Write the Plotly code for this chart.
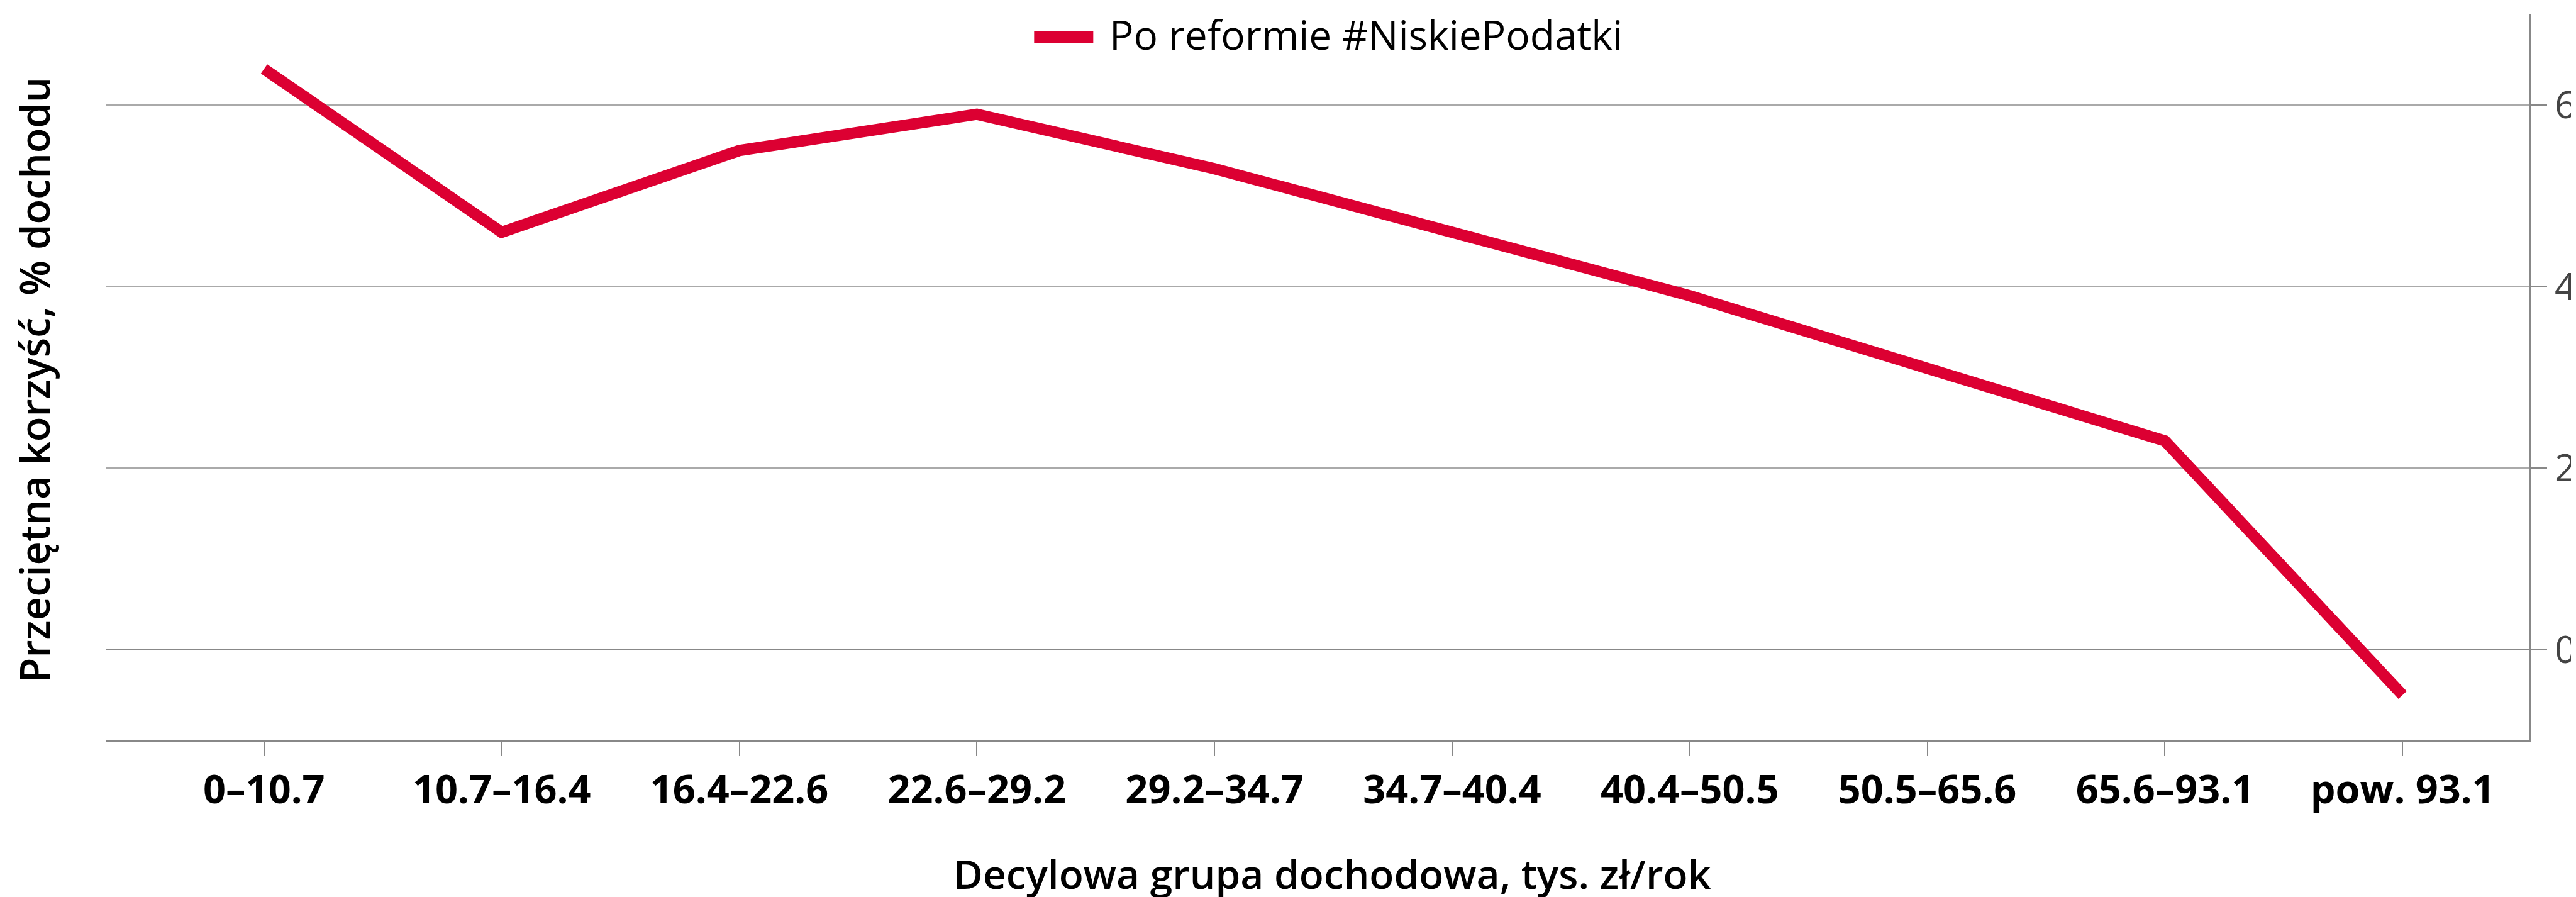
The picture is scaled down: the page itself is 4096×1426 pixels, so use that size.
import plotly.graph_objects as go

categories = ["0–10.7", "10.7–16.4", "16.4–22.6", "22.6–29.2", "29.2–34.7",
              "34.7–40.4", "40.4–50.5", "50.5–65.6", "65.6–93.1", "pow. 93.1"]
values = [6.4, 4.6, 5.5, 5.9, 5.3, 4.6, 3.9, 3.1, 2.3, -0.5]
series_name = "Po reformie #NiskiePodatki"
y_tickvals = [0, 2, 4, 6]
y_title = "Przeciętna korzyść, % dochodu"
x_title = "Decylowa grupa dochodowa, tys. zł/rok"

RED = "#DC0032"
FONT = "Open Sans"

x_idx = list(range(len(categories)))

fig = go.Figure()
fig.add_trace(go.Scatter(
    x=x_idx, y=values, mode="lines", name=series_name,
    line=dict(color=RED, width=18), showlegend=False,
))

fig.update_layout(
    width=4096, height=1426,
    margin=dict(l=161, r=82, t=15, b=257, autoexpand=False),
    paper_bgcolor="white", plot_bgcolor="white",
    font=dict(family=FONT, size=64, color="#000"),
    showlegend=False,
)

fig.update_xaxes(
    range=[-0.664, 9.534], automargin=False,
    tickmode="array", tickvals=x_idx, ticktext=categories,
    tickfont=dict(family=FONT, size=63, color="#000", weight="bold"),
    showgrid=False, zeroline=False,
    showline=True, linecolor="#888", linewidth=2.5,
    ticks="outside", ticklen=22, tickwidth=2, tickcolor="#888",
)
fig.update_yaxes(
    range=[-1, 7], side="right", automargin=False,
    tickmode="array", tickvals=y_tickvals,
    tickfont=dict(family=FONT, size=60, color="#444"),
    showgrid=True, gridcolor="#aaaaaa", gridwidth=1.8,
    zeroline=True, zerolinecolor="#888", zerolinewidth=2.8,
    showline=True, linecolor="#888", linewidth=3,
    ticks="outside", ticklen=25, tickwidth=2, tickcolor="#888",
    ticklabelstandoff=0,
)

# legend (swatch + text)
fig.add_shape(type="rect", xref="paper", yref="paper",
              x0=0.3829, x1=0.4073, y0=0.9601, y1=0.9766,
              fillcolor=RED, line=dict(width=0))
fig.add_annotation(text=series_name, xref="paper", yref="paper",
                   x=0.4135, y=0.973, xanchor="left", yanchor="middle",
                   showarrow=False, font=dict(family=FONT, size=64, color="#000"))

# axis titles
fig.add_annotation(text=x_title, xref="paper", yref="paper",
                   x=0.5060, y=-0.183, xanchor="center", yanchor="middle",
                   showarrow=False, font=dict(family=FONT, size=64, color="#000", weight=600))
fig.add_annotation(text=y_title, xref="paper", yref="paper",
                   x=-0.0296, y=0.497, xanchor="center", yanchor="middle",
                   textangle=-90, showarrow=False,
                   font=dict(family=FONT, size=65, color="#000", weight=600))

fig.write_html("out.html")
